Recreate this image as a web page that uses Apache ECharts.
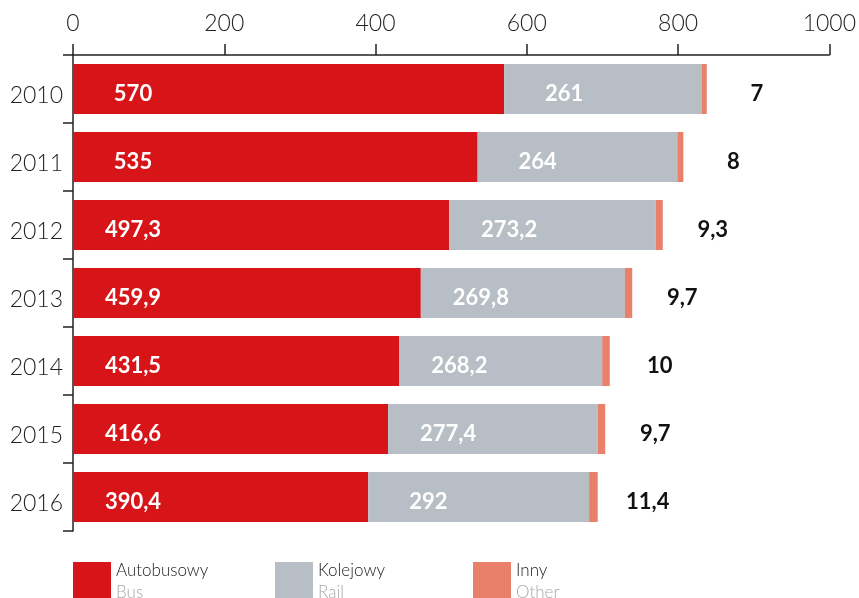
<!DOCTYPE html>
<html>
<head>
<meta charset="utf-8">
<script src="https://cdn.jsdelivr.net/npm/echarts@6/dist/echarts.min.js"></script>
<style>
  html, body { margin: 0; padding: 0; background: #fff; }
  #chart { width: 859px; height: 598px; }
</style>
</head>
<body>
<div id="chart"></div>
<script>
var years = ['2010', '2011', '2012', '2013', '2014', '2015', '2016'];
var busValues = [570, 535, 497.3, 459.9, 431.5, 416.6, 390.4];
var railValues = [261, 264, 273.2, 269.8, 268.2, 277.4, 292];
var otherValues = [7, 8, 9.3, 9.7, 10, 9.7, 11.4];
var xTicks = [0, 200, 400, 600, 800, 1000];

var seriesNames = ['Autobusowy', 'Kolejowy', 'Inny'];
var seriesSub = ['Bus', 'Rail', 'Other'];
var colors = ['#d71418', '#b7bec5', '#e8806a'];

var myChart = echarts.init(document.getElementById('chart'));

var fmt = function (p) {
    return String(p.value).replace('.', ',');
};

var baseFont = 'Lato, "Noto Sans", sans-serif';

var insideLabel = {
    show: true,
    position: [60, '50%'],
    offset: [0, 5],
    align: 'center',
    verticalAlign: 'middle',
    color: '#fff',
    fontFamily: baseFont,
    fontWeight: 'bold',
    fontSize: 22,
    formatter: fmt
};

var legendLefts = [73, 275, 473];
var legends = seriesNames.map(function (name, i) {
    return {
        left: legendLefts[i],
        top: 562,
        padding: 0,
        data: [name],
        itemWidth: 38,
        itemHeight: 40,
        itemGap: 0,
        icon: 'rect',
        selectedMode: false,
        formatter: function (n) {
            return '{a|' + n + '}\n{b|' + seriesSub[i] + '}';
        },
        textStyle: {
            rich: {
                a: { fontFamily: baseFont, fontWeight: 300, fontSize: 17, color: '#222', lineHeight: 22 },
                b: { fontFamily: baseFont, fontWeight: 300, fontSize: 17, color: '#a8a8a8', lineHeight: 22 }
            }
        }
    };
});

var option = {
    animation: false,
    color: colors,
    legend: legends,
    grid: { left: 73, right: 29, top: 55, bottom: 67 },
    xAxis: {
        type: 'value',
        position: 'top',
        min: xTicks[0],
        max: xTicks[xTicks.length - 1],
        interval: 200,
        splitLine: { show: false },
        axisLine: { show: true, lineStyle: { color: '#222', width: 1.5 } },
        axisTick: { show: true, length: 11, lineStyle: { color: '#222', width: 1.5 } },
        axisLabel: {
            margin: 20,
            color: '#222',
            fontFamily: baseFont,
            fontWeight: 300,
            fontSize: 23,
            formatter: function (v) { return String(v); }
        }
    },
    yAxis: {
        type: 'category',
        inverse: true,
        data: years,
        axisLine: { show: true, lineStyle: { color: '#222', width: 1.5 } },
        axisTick: { show: true, length: 10, lineStyle: { color: '#222', width: 1.5 } },
        axisLabel: {
            margin: 10,
            verticalAlign: 'top',
            lineHeight: 13,
            color: '#222',
            fontFamily: baseFont,
            fontWeight: 300,
            fontSize: 23
        }
    },
    series: [{
        name: seriesNames[0],
        type: 'bar',
        stack: 'total',
        barWidth: 50,
        data: busValues,
        label: insideLabel
    }, {
        name: seriesNames[1],
        type: 'bar',
        stack: 'total',
        barWidth: 50,
        data: railValues,
        label: insideLabel
    }, {
        name: seriesNames[2],
        type: 'bar',
        stack: 'total',
        barWidth: 50,
        data: otherValues,
        label: {
            show: true,
            position: ['100%', '50%'],
            offset: [50, 5],
            align: 'center',
            verticalAlign: 'middle',
            color: '#111',
            fontFamily: baseFont,
            fontWeight: 'bold',
            fontSize: 22,
            formatter: fmt
        }
    }]
};

myChart.setOption(option);
</script>
</body>
</html>
